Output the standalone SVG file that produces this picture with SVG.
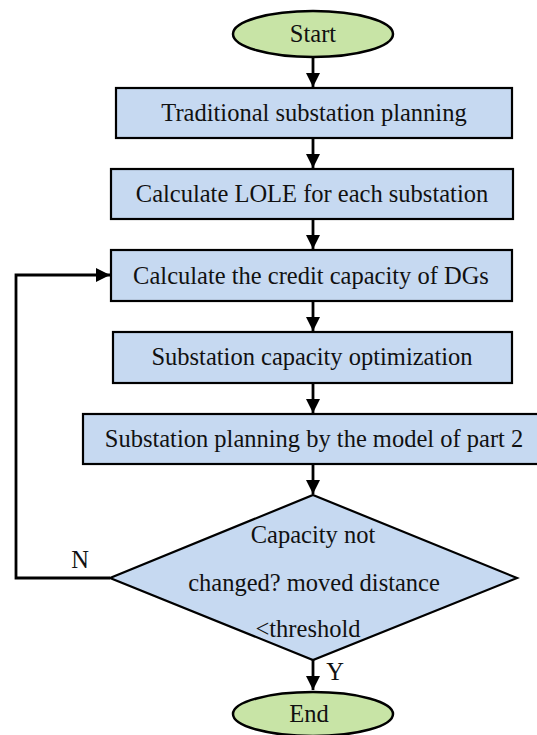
<svg xmlns="http://www.w3.org/2000/svg" width="537" height="735" viewBox="0 0 537 735">
  <style>
    .box { fill: #c6d9f1; stroke: #000; stroke-width: 2.2; }
    .term { fill: #c8e4a6; stroke: #000; stroke-width: 2.5; }
    .lbl { font-family: "Liberation Serif", "Times New Roman", serif; font-size: 24.5px; fill: #111; text-anchor: middle; }
    .edge { fill: none; stroke: #000; stroke-width: 2.8; }
  </style>
  <defs>
    <marker id="arrow" viewBox="0 0 14 14" refX="14" refY="7" markerWidth="14" markerHeight="14" markerUnits="userSpaceOnUse" orient="auto">
      <path d="M0,0 L14,7 L0,14 Z" fill="#000"/>
    </marker>
  </defs>
  <rect width="537" height="735" fill="#fff"/>

  <g id="connectors">
    <line class="edge" x1="313" y1="57" x2="313" y2="87" marker-end="url(#arrow)"/>
    <line class="edge" x1="313" y1="138" x2="313" y2="168" marker-end="url(#arrow)"/>
    <line class="edge" x1="313" y1="219" x2="313" y2="249" marker-end="url(#arrow)"/>
    <line class="edge" x1="313" y1="301" x2="313" y2="331" marker-end="url(#arrow)"/>
    <line class="edge" x1="313" y1="383" x2="313" y2="413" marker-end="url(#arrow)"/>
    <line class="edge" x1="313" y1="464" x2="313" y2="494" marker-end="url(#arrow)"/>
    <line class="edge" x1="313" y1="660" x2="313" y2="690" marker-end="url(#arrow)"/>
    <polyline class="edge" points="110,578 16,578 16,275 110,275" marker-end="url(#arrow)"/>
    <text class="lbl" x="80" y="568">N</text>
    <text class="lbl" x="335" y="680">Y</text>
  </g>

  <g id="start">
    <ellipse class="term" cx="313" cy="34" rx="80" ry="23"/>
    <text class="lbl" x="313" y="42">Start</text>
  </g>

  <g id="traditional-planning">
    <rect class="box" x="116" y="88" width="396" height="50"/>
    <text class="lbl" x="314" y="121">Traditional substation planning</text>
  </g>

  <g id="calculate-lole">
    <rect class="box" x="111" y="169" width="402" height="50"/>
    <text class="lbl" x="312" y="202">Calculate LOLE for each substation</text>
  </g>

  <g id="credit-capacity">
    <rect class="box" x="111" y="250" width="401" height="51"/>
    <text class="lbl" x="311" y="284">Calculate the credit capacity of DGs</text>
  </g>

  <g id="capacity-optimization">
    <rect class="box" x="113" y="332" width="399" height="51"/>
    <text class="lbl" x="312" y="365">Substation capacity optimization</text>
  </g>

  <g id="planning-model">
    <rect class="box" x="83" y="414" width="460" height="50"/>
    <text class="lbl" x="314" y="447">Substation planning by the model of part 2</text>
  </g>

  <g id="convergence-check">
    <polygon class="box" points="313,495 517,578 313,660 110,578"/>
    <text class="lbl" x="313" y="543">Capacity  not</text>
    <text class="lbl" x="314" y="591">changed? moved distance</text>
    <text class="lbl" x="308" y="637">&lt;threshold</text>
  </g>

  <g id="end">
    <ellipse class="term" cx="313" cy="714" rx="80" ry="22"/>
    <text class="lbl" x="309" y="722">End</text>
  </g>
</svg>
